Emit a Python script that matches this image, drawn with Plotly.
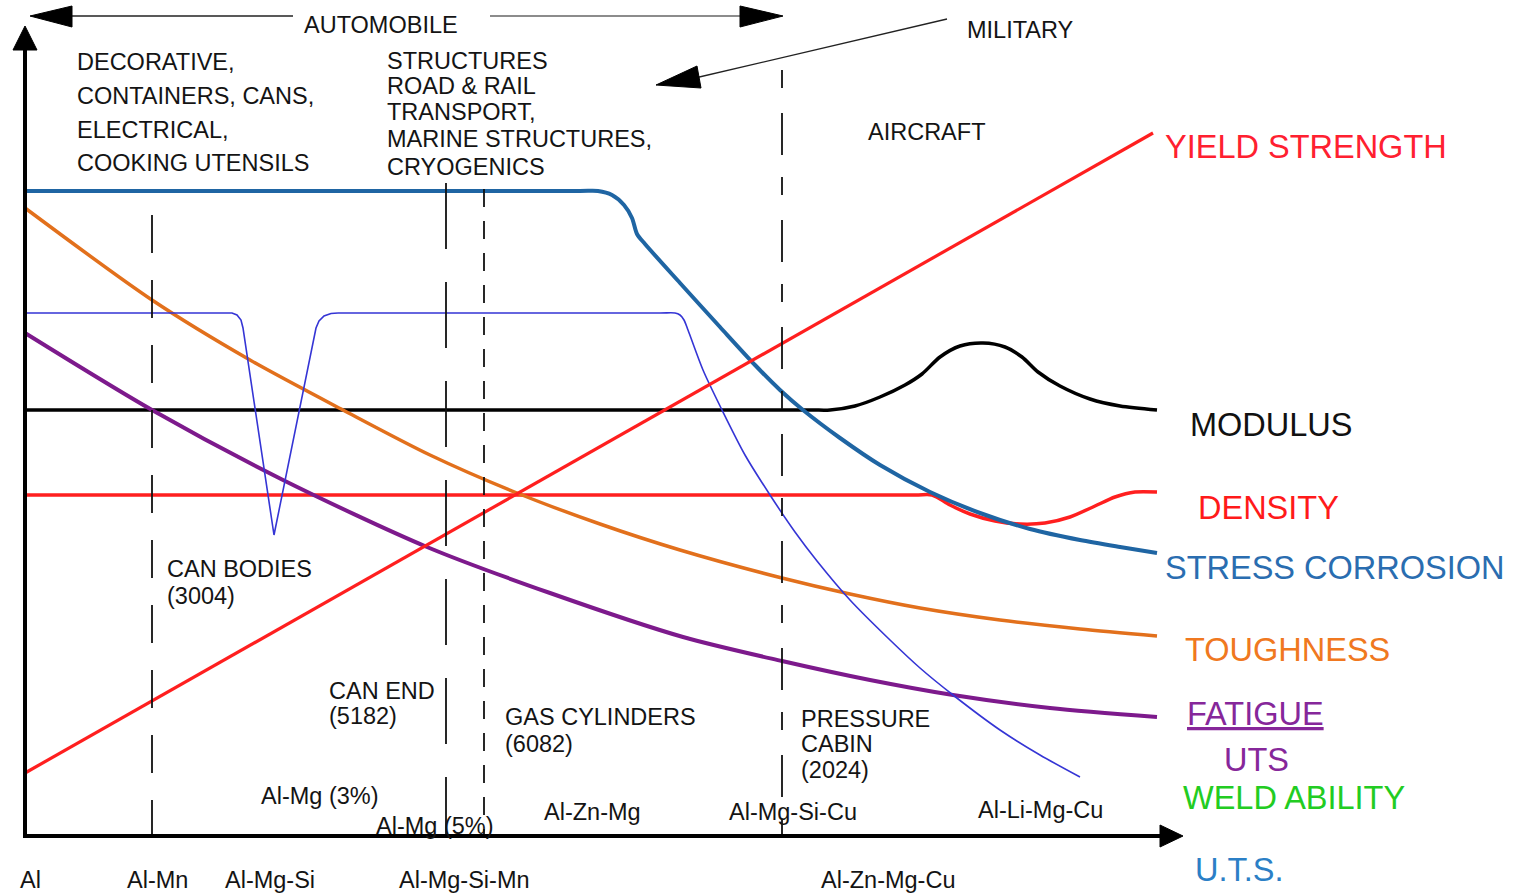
import plotly.graph_objects as go

W, H = 1522, 894

# ---------------- data (picture units: x to the right, y downward) ----------------
YIELD_X = [25, 1153]
YIELD_Y = [773, 133]

MODULUS_X = [25, 810, 830, 855, 880, 905, 922, 940, 960, 983, 1005, 1022, 1038, 1060, 1090, 1120, 1157]
MODULUS_Y = [410, 410, 410, 406, 397, 385, 374, 357, 346, 343, 347, 357, 372, 386, 399, 406, 410]

DENSITY_X = [25, 915, 932, 950, 970, 995, 1020, 1045, 1070, 1095, 1115, 1135, 1157]
DENSITY_Y = [495, 495, 495, 505, 514, 521, 524, 523, 517, 506, 497, 492, 492]

STRESS_X = [25, 580, 598, 612, 624, 632, 637, 645, 680, 720, 755, 780, 803, 840, 880, 930, 980, 1030, 1080, 1120, 1157]
STRESS_Y = [191, 191, 191, 195, 205, 218, 234, 244, 283, 327, 365, 390, 410, 438, 465, 492, 513, 529, 540, 547, 553]

TOUGH_X = [25, 152, 250, 343, 430, 517, 600, 680, 782, 850, 920, 1000, 1080, 1157]
TOUGH_Y = [208, 300, 360, 410, 455, 493, 524, 550, 578, 594, 608, 620, 629, 636]

FATIGUE_X = [25, 152, 283, 427, 550, 683, 782, 870, 953, 1050, 1157]
FATIGUE_Y = [333, 410, 480, 547, 593, 637, 661, 680, 695, 708, 717]

UTS_A_X = [25, 232, 237, 241, 243, 274, 316, 319, 324, 331, 338]
UTS_A_Y = [313, 313, 315, 320, 328, 535, 328, 321, 316, 313.5, 313]
UTS_B_X = [338, 350, 660, 675, 680, 684, 688, 703, 722, 745, 770, 795, 817, 850, 890, 920, 953, 1000, 1040, 1080]
UTS_B_Y = [313, 313, 313, 313, 315, 320, 330, 370, 410, 455, 495, 532, 561, 600, 640, 668, 695, 730, 755, 777]

# vertical alloy dividers (x position, top y)
DIVIDER_X = [152, 446, 484, 782]
DIVIDER_TOP = [215, 183, 189, 70]

# curve labels (right side)
CURVE_LABELS = ["YIELD STRENGTH", "MODULUS", "DENSITY", "STRESS CORROSION",
                "TOUGHNESS", "<u>FATIGUE</u>", "UTS", "WELD ABILITY", "U.T.S."]
# application / alloy text
TEXT_LABELS = ["AUTOMOBILE", "MILITARY", "AIRCRAFT",
               "DECORATIVE,", "CONTAINERS, CANS,", "ELECTRICAL,", "COOKING UTENSILS",
               "STRUCTURES", "ROAD & RAIL", "TRANSPORT,", "MARINE STRUCTURES,", "CRYOGENICS",
               "CAN BODIES", "(3004)", "CAN END", "(5182)", "GAS CYLINDERS", "(6082)",
               "PRESSURE", "CABIN", "(2024)",
               "Al-Mg (3%)", "Al-Mg (5%)", "Al-Zn-Mg", "Al-Mg-Si-Cu", "Al-Li-Mg-Cu",
               "Al", "Al-Mn", "Al-Mg-Si", "Al-Mg-Si-Mn", "Al-Zn-Mg-Cu"]

# ---------------- layout positions / styles ----------------
CURVE_LABEL_POS = [(1163, 147), (1188, 425), (1196, 508), (1163, 568), (1183, 650),
                   (1185, 714), (1222, 760), (1181, 798), (1193, 870)]
CURVE_LABEL_COL = ["#ff2030", "#111111", "#ff1a1a", "#2a6db0", "#f07820",
                   "#86279a", "#86279a", "#22cc22", "#2b7fc6"]
TEXT_POS = [(302, 25), (965, 30), (866, 132),
            (75, 62), (75, 96), (75, 130), (75, 163),
            (385, 61), (385, 86), (385, 112), (385, 139), (385, 167),
            (165, 569), (165, 596), (327, 691), (327, 716), (503, 717), (503, 744),
            (799, 719), (799, 744), (799, 770),
            (259, 796), (374, 826), (542, 812), (727, 812), (976, 810),
            (18, 880), (125, 880), (223, 880), (397, 880), (819, 880)]

RED = "#ff1f1f"
FONT = "Liberation Sans, Arial, sans-serif"

fig = go.Figure()


def add_curve(xs, ys, color, width, shape="spline"):
    line = dict(color=color, width=width, shape=shape)
    if shape == "spline":
        line["smoothing"] = 0.8
    fig.add_trace(go.Scatter(x=xs, y=ys, mode="lines", line=line,
                             hoverinfo="skip", showlegend=False))


add_curve(MODULUS_X, MODULUS_Y, "#000000", 3.5)
add_curve(DENSITY_X, DENSITY_Y, RED, 3.5)
add_curve(TOUGH_X, TOUGH_Y, "#e2701c", 3.5)
add_curve(FATIGUE_X, FATIGUE_Y, "#7d1a8c", 4)
add_curve(UTS_A_X, UTS_A_Y, "#3535d5", 1.6, shape="linear")
add_curve(UTS_B_X, UTS_B_Y, "#3535d5", 1.6)
add_curve(STRESS_X, STRESS_Y, "#1f65a3", 4)
add_curve(YIELD_X, YIELD_Y, RED, 3.2, shape="linear")

shapes = []
# dividers
DIV_DASH = ["38px,27px", "66px,33px", "18px,14px", "18px,25px,42px,22px"]
for xv, top, dash in zip(DIVIDER_X, DIVIDER_TOP, DIV_DASH):
    shapes.append(dict(type="line", xref="x", yref="y", x0=xv, x1=xv, y0=top, y1=835,
                       line=dict(color="#111111", width=1.8, dash=dash)))

# axes
shapes.append(dict(type="line", xref="x", yref="y", x0=25, x1=25, y0=837, y1=45,
                   line=dict(color="#000000", width=4)))
shapes.append(dict(type="line", xref="x", yref="y", x0=23, x1=1162, y0=836, y1=836,
                   line=dict(color="#000000", width=4)))


def tri(p1, p2, p3, color="#000000"):
    shapes.append(dict(type="path", xref="x", yref="y",
                       path=f"M {p1[0]},{p1[1]} L {p2[0]},{p2[1]} L {p3[0]},{p3[1]} Z",
                       fillcolor=color, line=dict(color=color, width=1)))


tri((13, 50), (25, 26), (37, 50))           # y axis head
tri((1160, 825), (1183, 836), (1160, 847))  # x axis head

# automobile arrow
shapes.append(dict(type="line", xref="x", yref="y", x0=70, x1=293, y0=16, y1=16,
                   line=dict(color="#222222", width=1.6)))
shapes.append(dict(type="line", xref="x", yref="y", x0=490, x1=742, y0=16, y1=16,
                   line=dict(color="#666666", width=1.6)))
tri((72, 6), (30, 16), (72, 27))
tri((740, 6), (783, 16), (740, 27))

# military arrow
shapes.append(dict(type="line", xref="x", yref="y", x0=947, x1=695, y0=19, y1=78,
                   line=dict(color="#222222", width=1.3)))
tri((697, 66), (656, 85), (701, 88))

annotations = []
for txt, (xv, yv), col in zip(CURVE_LABELS, CURVE_LABEL_POS, CURVE_LABEL_COL):
    annotations.append(dict(x=xv, y=yv, xref="x", yref="y", text=txt, showarrow=False,
                            xanchor="left", yanchor="middle",
                            font=dict(family=FONT, size=32.5, color=col)))
for txt, (xv, yv) in zip(TEXT_LABELS, TEXT_POS):
    annotations.append(dict(x=xv, y=yv, xref="x", yref="y", text=txt, showarrow=False,
                            xanchor="left", yanchor="middle",
                            font=dict(family=FONT, size=23.5, color="#141414")))

fig.update_layout(
    width=W, height=H, margin=dict(l=0, r=0, t=0, b=0),
    paper_bgcolor="white", plot_bgcolor="white",
    xaxis=dict(range=[0, W], visible=False, fixedrange=True),
    yaxis=dict(range=[H, 0], visible=False, fixedrange=True),
    shapes=shapes, annotations=annotations, showlegend=False,
)

fig.write_html("out.html", config={"displayModeBar": False})

# remove the default page margin so the figure sits at the window's top-left corner
with open("out.html", encoding="utf-8") as fh:
    page = fh.read()
page = page.replace("<body>", '<body style="margin:0;padding:0;overflow:hidden">', 1)
with open("out.html", "w", encoding="utf-8") as fh:
    fh.write(page)
